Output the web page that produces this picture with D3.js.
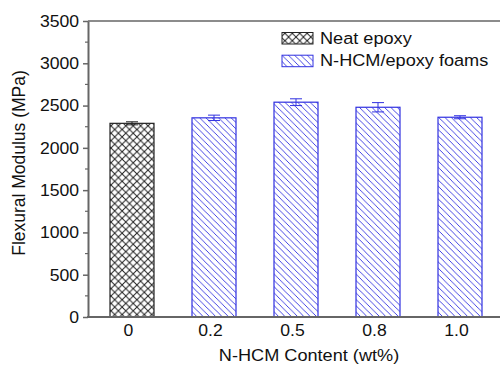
<!DOCTYPE html>
<html><head><meta charset="utf-8">
<script src="https://cdn.jsdelivr.net/npm/d3@7"></script>
<style>body{margin:0;background:#fff}svg{display:block}</style>
</head><body>
<svg id="c" width="500" height="365"></svg>
<script>
const categories = ["0","0.2","0.5","0.8","1.0"];
const values = [2290, 2355, 2540, 2480, 2362];
const errors = [18, 32, 40, 55, 18];
const seriesOf = ["neat","foam","foam","foam","foam"];
const legendLabels = ["Neat epoxy","N-HCM/epoxy foams"];
const yTicks = [0,500,1000,1500,2000,2500,3000,3500];
const yMinor = [250,750,1250,1750,2250,2750,3250];

const svg = d3.select("#c");
const font = "'Liberation Sans', Arial, sans-serif";
const SX = 1.1; // horizontal stretch of the reference image
function stext(sel, x, y, str, size, anchor, rot){
  return sel.append("text")
    .attr("transform", `translate(${x},${y}) scale(${SX},1)` + (rot ? ` rotate(${rot})` : ""))
    .attr("text-anchor", anchor || "start")
    .attr("font-family", font).attr("font-size", size).attr("fill", "#111").text(str);
}

const defs = svg.append("defs");
const ph = defs.append("pattern").attr("id","cross").attr("patternUnits","userSpaceOnUse")
  .attr("width",7.4).attr("height",7.4);
ph.append("rect").attr("width",7.4).attr("height",7.4).attr("fill","#fff");
ph.append("path").attr("d","M-1,-1L8.4,8.4M8.4,-1L-1,8.4").attr("stroke","#222").attr("stroke-width",1);
const pd = defs.append("pattern").attr("id","diag").attr("patternUnits","userSpaceOnUse")
  .attr("width",6.3).attr("height",6.3);
pd.append("rect").attr("width",6.3).attr("height",6.3).attr("fill","#fff");
pd.append("path").attr("d","M-1,-1L7.3,7.3M-4,2.3L1,7.3M2.3,-4L7.3,1").attr("stroke","#3030e0").attr("stroke-width",0.9);

const x = d3.scaleLinear().domain([0,4]).range([132,460]);
const y = d3.scaleLinear().domain([0,3500]).range([317,21]);
const bw = 44;
const fills = {neat:"url(#cross)", foam:"url(#diag)"};
const strokes = {neat:"#222", foam:"#3030e0"};

// top frame line
svg.append("line").attr("x1",88).attr("x2",500).attr("y1",y(3500)).attr("y2",y(3500))
  .attr("stroke","#666").attr("stroke-width",1.5);

// bars + error bars
const g = svg.append("g");
categories.forEach((c,i)=>{
  const s = seriesOf[i];
  g.append("rect").attr("x",x(i)-bw/2).attr("y",y(values[i])).attr("width",bw)
    .attr("height",y(0)-y(values[i])).attr("fill",fills[s]).attr("stroke",strokes[s]).attr("stroke-width",1.2);
  const col = strokes[s];
  const yt = y(values[i]+errors[i]), yb = y(values[i]-errors[i]);
  g.append("line").attr("x1",x(i)).attr("x2",x(i)).attr("y1",yt).attr("y2",yb).attr("stroke",col).attr("stroke-width",1);
  g.append("line").attr("x1",x(i)-6).attr("x2",x(i)+6).attr("y1",yt).attr("y2",yt).attr("stroke",col).attr("stroke-width",1);
  g.append("line").attr("x1",x(i)-6).attr("x2",x(i)+6).attr("y1",yb).attr("y2",yb).attr("stroke",col).attr("stroke-width",1);
});

// y axis
const yAxis = d3.axisLeft(y).tickValues(yTicks).tickSize(5).tickSizeOuter(0).tickFormat(d3.format("d"));
const ya = svg.append("g").attr("transform","translate(88,0)").call(yAxis);
ya.select(".domain").attr("stroke","#666").attr("stroke-width",2);
ya.selectAll(".tick line").attr("stroke","#666").attr("stroke-width",1.5);
ya.selectAll(".tick text").remove();
yTicks.forEach(t => stext(svg, 79, y(t)+5.8, String(t), 16, "end"));
svg.append("g").selectAll("line").data(yMinor).join("line")
  .attr("x1",85).attr("x2",88).attr("y1",d=>y(d)).attr("y2",d=>y(d)).attr("stroke","#666").attr("stroke-width",1.2);

// x axis
svg.append("line").attr("x1",87).attr("x2",500).attr("y1",y(0)).attr("y2",y(0)).attr("stroke","#666").attr("stroke-width",2);
categories.forEach((c,i)=> stext(svg, x(i)-3.5, 336, c, 16, "middle"));

// axis titles
stext(svg, 309, 360.5, "N-HCM Content (wt%)", 16.5, "middle");
stext(svg, 25, 163, "Flexural Modulus (MPa)", 17.5, "middle", -90);

// legend
legendLabels.forEach((l,i)=>{
  const s = i===0?"neat":"foam";
  const yy = 32.5 + i*22.7;
  svg.append("rect").attr("x",282).attr("y",yy).attr("width",31).attr("height",11.5)
    .attr("fill",fills[s]).attr("stroke",strokes[s]).attr("stroke-width",1);
  stext(svg, 320, yy+11, l, 16.5, "start");
});
</script>
</body></html>
